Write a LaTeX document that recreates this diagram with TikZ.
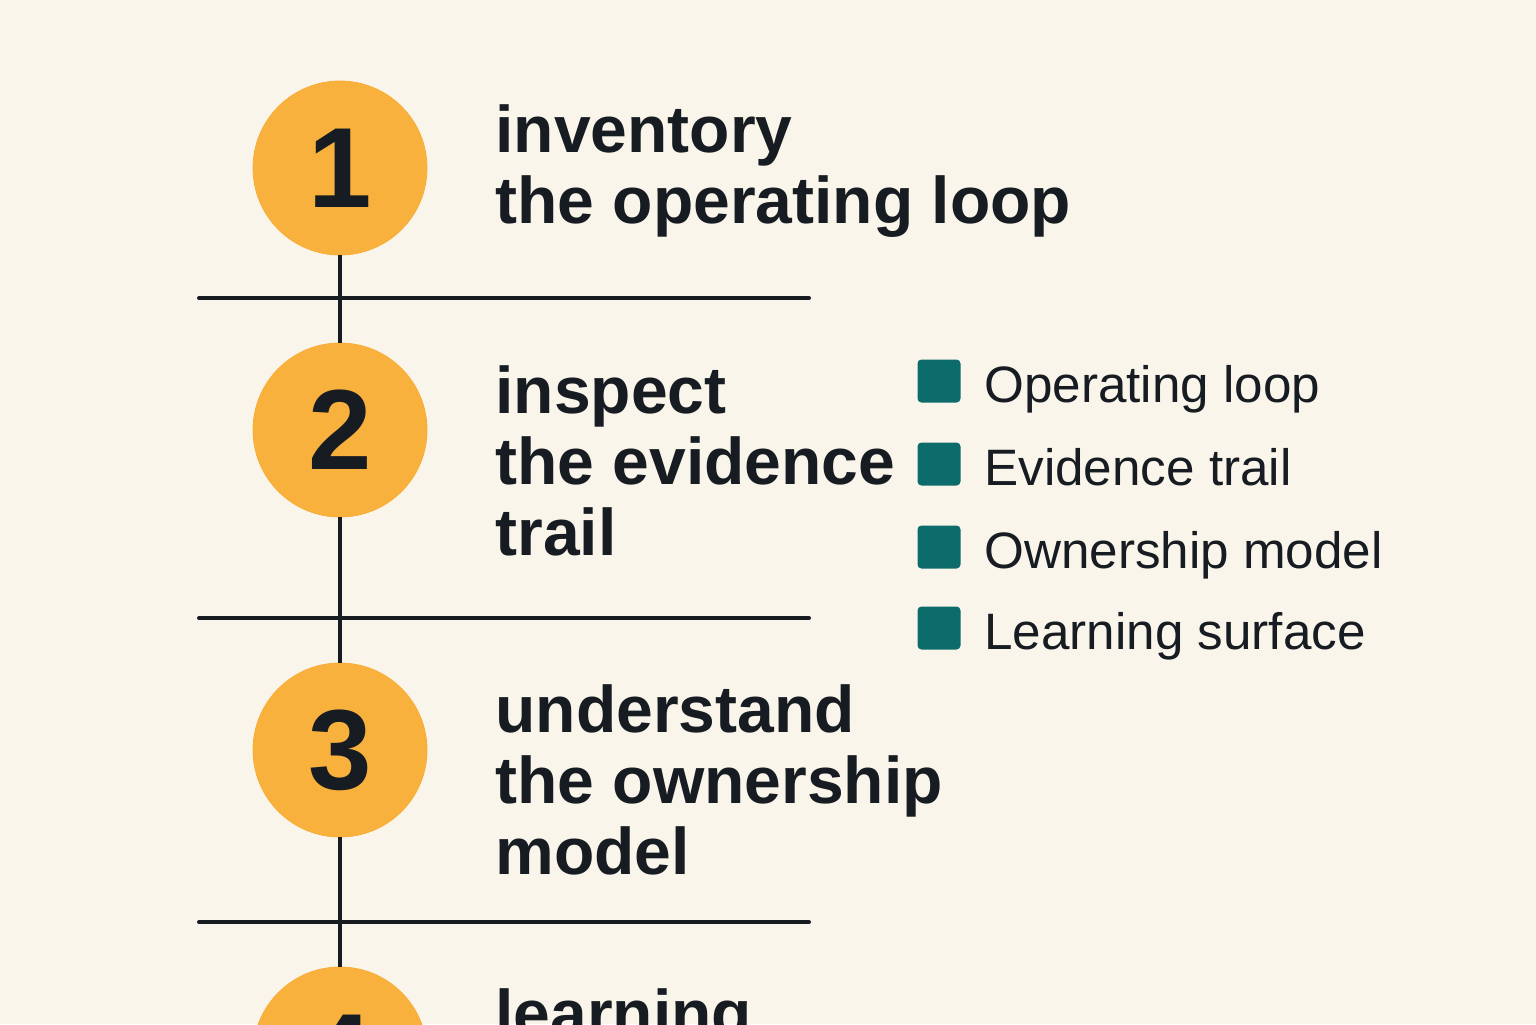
\documentclass[tikz,border=0pt]{standalone}
\usepackage{fontspec}
\setmainfont{Liberation Sans}
\definecolor{paper}{HTML}{FAF5EB}
\definecolor{amber}{HTML}{F9B13E}
\definecolor{keyteal}{HTML}{0C6B6B}
\definecolor{ink}{HTML}{161C21}
\begin{document}
\begin{tikzpicture}[x=0.5pt, y=-0.5pt,
    stepnum/.style={circle, fill=amber, draw=amber!92!orange, minimum size=87pt, inner sep=0pt, text=ink, font=\fontsize{57}{57}\selectfont\bfseries},
    steptext/.style={anchor=base west, align=left, inner sep=0pt, text=ink, font=\fontsize{33}{35.5}\selectfont\bfseries},
    keybox/.style={rectangle, rounded corners=2pt, fill=keyteal, minimum size=21.5pt, inner sep=0pt},
    keytext/.style={anchor=base west, inner sep=0pt, text=ink, font=\fontsize{25.6}{30}\selectfont},
    rule/.style={draw=ink, line width=2pt}]
    \clip (0,0) rectangle (1536,1024);
    \fill[paper] (0,0) rectangle (1536,1024);

    % separators
    \foreach \y in {298,618,922}
        \draw[rule, line cap=round] (199,\y) -- (809,\y);

    % steps
    \node (S1) at (340, 168) [stepnum] {1};
    \node (S2) at (340, 430) [stepnum] {2};
    \node (S3) at (340, 750) [stepnum] {3};
    \node (S4) at (340, 1054) [stepnum] {4};
    \draw[rule] (S1) -- (S2);
    \draw[rule] (S2) -- (S3);
    \draw[rule] (S3) -- (S4);

    % base anchor sits on the last line
    \node (T1) at (495, 223) [steptext] {inventory\\the operating loop};
    \node (T2) at (495, 555) [steptext] {inspect\\the evidence\\trail};
    \node (T3) at (495, 874) [steptext] {understand\\the ownership\\model};
    \node (T4) at (495, 1036) [steptext] {learning};

    % legend
    \foreach \i/\name/\y in {1/Operating loop/381, 2/Evidence trail/464, 3/Ownership model/547, 4/Learning surface/628} {
        \node (K\i) at (939, \y) [keybox] {};
        \node (L\i) at (984, \y+21) [keytext] {\name};
    }
\end{tikzpicture}
\end{document}
